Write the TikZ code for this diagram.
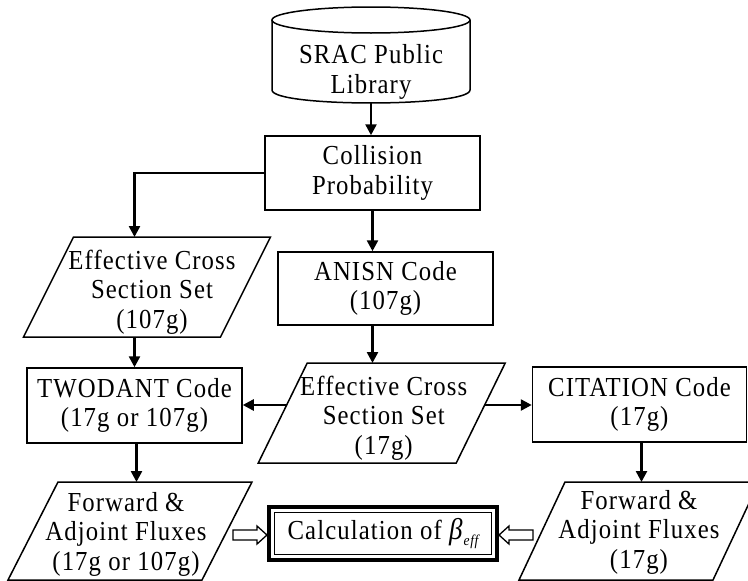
\documentclass[tikz,border=0pt]{standalone}
\usepackage{fontspec}
\setmainfont{Liberation Serif}[LetterSpace=4,FakeStretch=0.9]
\usetikzlibrary{arrows.meta,calc}
\newcommand\paraout[2]{\draw[edge] ([xshift=#2pt]#1.north west) -- ([xshift=#2pt]#1.north east) -- ([xshift=-#2pt]#1.south east) -- ([xshift=-#2pt]#1.south west) -- cycle;}
\begin{document}
\begin{tikzpicture}[x=1pt,y=-1pt,
  lbl/.style={font=\fontsize{27.5}{29.5}\selectfont, align=center},
  box/.style={lbl, draw, line width=1.5pt, inner sep=0pt},
  ghost/.style={inner sep=0pt, outer sep=0pt},
  edge/.style={line width=1.5pt, line join=miter},
  arr/.style={line width=2.5pt, -{Triangle[length=11pt,width=11pt]}},
  hol/.style={line width=1.3pt, fill=white, line join=miter}
]
\useasboundingbox (0,0) rectangle (748,581);
\clip (0,0) rectangle (748,581);

% cylinder
\node[ghost, minimum width=198pt, minimum height=96pt] (srac) at (371,55) {};
\draw[edge] (371,20) ellipse [x radius=99pt, y radius=13pt];
\draw[edge] (272,20) -- (272,90) .. controls (272,107.3) and (470,107.3) .. (470,90) -- (470,20);
\node[lbl] (sractext) at (371,72) {SRAC Public\\Library};

% boxes
\node[box, minimum width=215pt, minimum height=74pt] (coll) at (372.5,173) {Collision\\Probability};
\node[box, minimum width=215pt, minimum height=73pt] (anisn) at (385.5,288.5) {ANISN Code\\(107g)};
\node[box, minimum width=215pt, minimum height=75pt] (twodant) at (134.5,405.5) {TWODANT Code\\(17g or 107g)};
\node[box, minimum width=214pt, minimum height=75pt] (citation) at (639.5,404.5) {CITATION Code\\(17g)};
\node[lbl, draw, line width=4pt, inner sep=0pt, minimum width=228pt, minimum height=53pt] (calc) at (383,533.5)
  {Calculation of \textit{\fontsize{30}{30}\selectfont β}\raisebox{-0.45ex}{\fontsize{15}{15}\selectfont\itshape eff}};
\draw[line width=1.8pt] ([xshift=7.5pt,yshift=-7.5pt]calc.north west) rectangle ([xshift=-7.5pt,yshift=7.5pt]calc.south east);

% parallelograms
\node[ghost, minimum width=197pt, minimum height=100pt] (eff1) at (147,287) {};
\paraout{eff1}{25}
\node[lbl] (eff1t) at ([xshift=5pt,yshift=-5pt]eff1.center) {Effective Cross\\Section Set\\(107g)};
\node[ghost, minimum width=198pt, minimum height=100pt] (eff2) at (381.75,413) {};
\paraout{eff2}{24.5}
\node[lbl] (eff2t) at ([xshift=2pt,yshift=-5pt]eff2.center) {Effective Cross\\Section Set\\(17g)};
\node[ghost, minimum width=194pt, minimum height=98pt] (fwd1) at (130,531) {};
\paraout{fwd1}{25}
\node[lbl] (fwd1t) at ([xshift=-4pt,yshift=-3pt]fwd1.center) {Forward \&\\Adjoint Fluxes\\(17g or 107g)};
\node[ghost, minimum width=194pt, minimum height=98pt] (fwd2) at (639,531) {};
\paraout{fwd2}{23}
\node[lbl] (fwd2t) at ([yshift=-1pt]fwd2.center) {Forward \&\\Adjoint Fluxes\\(17g)};

\coordinate (e2tl) at ([xshift=24.5pt]eff2.north west);
\coordinate (e2bl) at ([xshift=-24.5pt]eff2.south west);
\coordinate (e2tr) at ([xshift=24.5pt]eff2.north east);
\coordinate (e2br) at ([xshift=-24.5pt]eff2.south east);
\coordinate (e2l) at ($(e2tl)!0.42!(e2bl)$);
\coordinate (e2r) at ($(e2tr)!0.42!(e2br)$);

% connectors
\draw[arr] (srac.south) -- (srac.south |- coll.north);
\draw[arr] (coll.west) -| (twodant.north |- eff1.north);
\draw[arr] (coll.south) -- (coll.south |- anisn.north);
\draw[arr] (twodant.north |- eff1.south) -- (twodant.north);
\draw[arr] (coll.south |- anisn.south) -- (coll.south |- eff2.north);
\draw[arr] (e2l) -- (e2l -| twodant.east);
\draw[arr] (e2r) -- (e2r -| citation.west);
\draw[arr] ([xshift=2pt]twodant.south) -- ([xshift=2pt]twodant.south |- fwd1.north);
\draw[arr] ([xshift=2pt]citation.south) -- ([xshift=2pt]citation.south |- fwd2.north);

% hollow arrows
\draw[hol] ([yshift=-1.5pt]calc.west) -- ++(-10pt,9pt) -- ++(0,-4pt) -- ++(-24pt,0) -- ++(0,-10pt) -- ++(24pt,0) -- ++(0,-4pt) -- cycle;
\draw[hol] ([yshift=-1.5pt]calc.east) -- ++(10pt,9pt) -- ++(0,-4pt) -- ++(24pt,0) -- ++(0,-10pt) -- ++(-24pt,0) -- ++(0,-4pt) -- cycle;
\end{tikzpicture}
\end{document}
